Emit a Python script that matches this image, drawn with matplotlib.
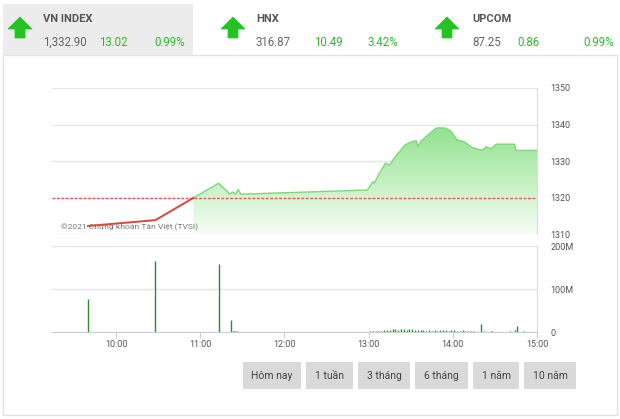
import matplotlib
matplotlib.use('Agg')
import matplotlib.pyplot as plt
import numpy as np
from matplotlib.patches import Rectangle, Polygon
from matplotlib.colors import LinearSegmentedColormap

plt.rcParams['font.family'] = ['Roboto', 'DejaVu Sans']

# --- data ---
REF = 1319.88

price_times = ["09:40", "10:28", "10:55", "11:13", "11:21", "11:23", "11:25", "11:27", "11:29",
               "12:59", "13:03", "13:04", "13:07", "13:12", "13:15", "13:19", "13:26", "13:29",
               "13:34", "13:35", "13:37", "13:41", "13:47", "13:49", "13:55", "13:59", "14:03",
               "14:08", "14:13", "14:18", "14:21", "14:24", "14:27", "14:31", "14:44", "14:45", "15:00"]
price_vals = [1312.2, 1313.8, 1319.88, 1323.9, 1320.96, 1321.5, 1320.9, 1322.2, 1320.9,
              1322.05, 1324.3, 1323.9, 1326.2, 1329.4, 1328.9, 1331.2, 1334.4, 1335.0,
              1335.6, 1333.9, 1335.3, 1336.7, 1338.7, 1339.1, 1339.0, 1338.0, 1335.8,
              1335.3, 1333.9, 1333.2, 1333.0, 1333.9, 1333.3, 1334.6, 1334.6, 1332.9, 1332.9]

vol_times = ["09:40", "10:28", "11:13", "11:22", "11:23", "11:24", "11:25", "11:26",
             "13:01", "13:03", "13:05", "13:07", "13:09", "13:11", "13:13", "13:15", "13:17", "13:19",
             "13:21", "13:23", "13:25", "13:27", "13:29", "13:31", "13:33", "13:35", "13:37", "13:39",
             "13:41", "13:43", "13:45", "13:47", "13:49", "13:51", "13:53", "13:55", "13:57", "13:59",
             "14:01", "14:03", "14:05", "14:07", "14:09", "14:11", "14:13", "14:15",
             "14:20", "14:22", "14:27", "14:28", "14:41", "14:44", "14:46", "14:51"]
vol_vals = [77, 166, 158, 28, 3, 2, 3, 2,
            2, 2, 3, 2, 3, 4, 5, 4, 6, 7,
            5, 7, 6, 4, 7, 6, 4, 5, 4, 4,
            3, 4, 3, 4, 3, 4, 5, 4, 3, 5,
            4, 3, 3, 4, 2, 3, 2, 2,
            19, 3, 3, 2, 2, 4, 13, 2]

hour_ticks = [10, 11, 12, 13, 14, 15]
hour_labels = ["10:00", "11:00", "12:00", "13:00", "14:00", "15:00"]
price_ticks = [1310, 1320, 1330, 1340, 1350]
vol_ticks = [0, 100, 200]
vol_labels = ["0", "100M", "200M"]

indices = [("VN INDEX", "1,332.90", "13.02", "0.99%"),
           ("HNX", "316.87", "10.49", "3.42%"),
           ("UPCOM", "87.25", "0.86", "0.99%")]
buttons = ["Hôm nay", "1 tuần", "3 tháng", "6 tháng", "1 năm", "10 năm"]


def hrs(s):
    h, m = s.split(':')
    return int(h) + int(m) / 60.0


px = np.array([hrs(t) for t in price_times])
py = np.array(price_vals)
vx = np.array([hrs(t) for t in vol_times])
vy = np.array(vol_vals)

W, H = 620, 419
fig = plt.figure(figsize=(6.2, 4.19), dpi=100)

# background layer in pixel coordinates
bg = fig.add_axes([0, 0, 1, 1])
bg.set_xlim(0, W)
bg.set_ylim(H, 0)
bg.axis('off')
bg.add_patch(Rectangle((3, 55), 614, 360, facecolor='white', edgecolor='#e3e3e3', lw=1))
bg.add_patch(Rectangle((3, 4), 190, 51, facecolor='#ececec', edgecolor='none'))

green = '#22c322'
arrow_x = [20, 233, 447]
text_x = [(43, 99, 154), (256, 314, 368), (472, 517, 583)]
for (name, val, chg, pct), ax0, (tx0, tx1, tx2) in zip(indices, arrow_x, text_x):
    arr = [(ax0, 17), (ax0 + 12, 29), (ax0 + 5, 29), (ax0 + 5, 38), (ax0 - 5, 38), (ax0 - 5, 29), (ax0 - 12, 29)]
    bg.add_patch(Polygon(arr, closed=True, facecolor=green, edgecolor=green, lw=0.5, joinstyle='round'))
    bg.text(tx0, 19, name, fontsize=8, fontweight='bold', color='#555555', va='center', ha='left')
    bg.text(tx0, 42, val, fontsize=8.3, color='#666666', va='center', ha='left')
    bg.text(tx1, 42, chg, fontsize=8.3, color='#2fb82f', va='center', ha='left')
    bg.text(tx2, 42, pct, fontsize=8.3, color='#2fb82f', va='center', ha='left')

btn_x = [(243, 301), (306, 353), (358, 410), (415, 468), (473, 519), (524, 576)]
for lab, (b0, b1) in zip(buttons, btn_x):
    bg.add_patch(Rectangle((b0, 362), b1 - b0, 27, facecolor='#d9d9d9', edgecolor='none'))
    bg.text((b0 + b1) / 2, 376, lab, fontsize=7.5, color='#444444', ha='center', va='center')


def px_axes(x0, y0, x1, y1):
    return fig.add_axes([x0 / W, 1 - y1 / H, (x1 - x0) / W, (y1 - y0) / H])


XMIN, XMAX = 9.238, 15.0

# --- price panel ---
ax = px_axes(52, 88, 537, 234)
ax.set_facecolor('none')
for s in ['top', 'left', 'bottom']:
    ax.spines[s].set_visible(False)
ax.spines['right'].set_color('#dcdcdc')
ax.set_yticks(price_ticks)
ax.yaxis.tick_right()
ax.tick_params(axis='y', length=0, pad=9.5, labelsize=6.5, labelcolor='#555555')
ax.set_xticks([])
ax.grid(axis='y', color='#e6e6e6', lw=1)
ax.set_axisbelow(True)

first_up = int(np.argmax(py > REF))
rx, ry = px[:first_up], py[:first_up]
gx, gy = px[first_up - 1:], py[first_up - 1:]

cmap = LinearSegmentedColormap.from_list('g', ['#f7fdf6', '#8ee28b'])
grad = np.linspace(0, 1, 256).reshape(-1, 1)
im = ax.imshow(grad, extent=[gx[0], gx[-1], 1310, 1340], origin='lower', aspect='auto', cmap=cmap, zorder=1)
clip = Polygon(list(zip(gx, gy)) + [(gx[-1], 1310), (gx[0], 1310)], closed=True,
               transform=ax.transData, facecolor='none', edgecolor='none')
ax.add_patch(clip)
im.set_clip_path(clip)

ax.plot(gx, gy, color='#7fd67b', lw=1, zorder=2)
ax.axhline(REF, color='#e05a4f', lw=1, dashes=(2, 1.2), zorder=3)
ax.plot(rx, ry, color='#d9463b', lw=1.4, zorder=4)
ax.text(9.34, 1312.0, "©2021 Chứng khoán Tân Việt (TVSI)", fontsize=6.1, color='#777777',
        va='center', ha='left', zorder=3)
ax.set_xlim(XMIN, XMAX)
ax.set_ylim(1310, 1350)

# --- volume panel ---
av = px_axes(52, 246, 537, 332)
av.set_facecolor('none')
for s in ['top', 'left']:
    av.spines[s].set_visible(False)
av.spines['right'].set_color('#dcdcdc')
av.spines['bottom'].set_color('#c8ced6')
av.vlines(vx, 0, vy, color='#2f8a2f', lw=1)
av.set_yticks(vol_ticks)
av.set_yticklabels(vol_labels)
av.yaxis.tick_right()
av.tick_params(axis='y', length=0, pad=9.5, labelsize=6.5, labelcolor='#555555')
av.set_xticks(hour_ticks)
av.set_xticklabels(hour_labels)
av.tick_params(axis='x', length=4, color='#c8ced6', pad=2, labelsize=6.5, labelcolor='#555555')
av.grid(axis='y', color='#e6e6e6', lw=1)
av.set_axisbelow(True)
av.set_xlim(XMIN, XMAX)
av.set_ylim(0, 200)

fig.savefig('out.png', dpi=100)
